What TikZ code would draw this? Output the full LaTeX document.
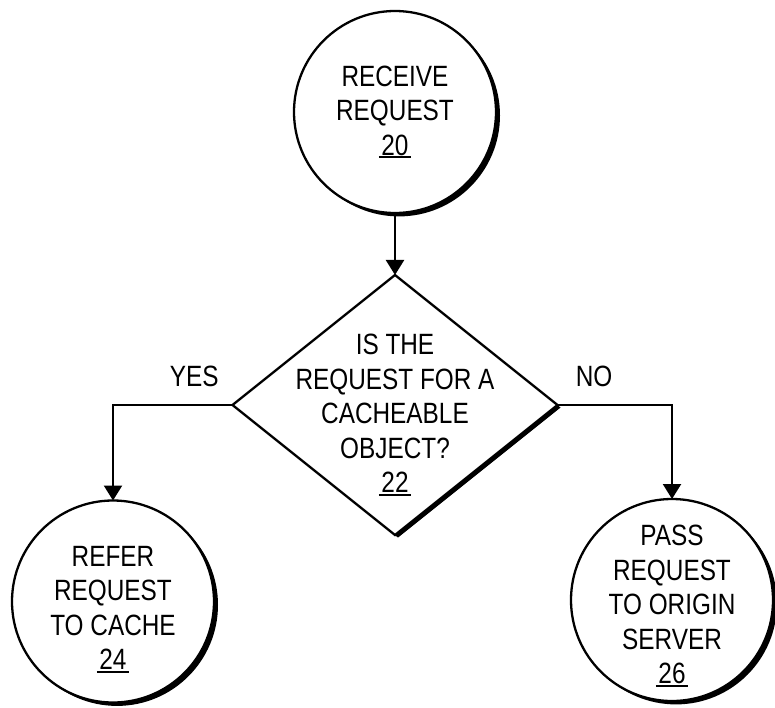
\documentclass[tikz,border=0pt]{standalone}
\usepackage{fontspec}
\setmainfont{Liberation Sans}[FakeStretch=0.83]
\usetikzlibrary{arrows.meta, positioning, shapes.geometric, shadows}

% reference numeral with a heavy underline
\newcommand{\refno}[1]{\setbox0=\hbox{#1}\leavevmode
  \rlap{\kern-1.5pt\vrule width \dimexpr\wd0+3pt\relax height -0.7pt depth 1.9pt}\box0}

\begin{document}
\begin{tikzpicture}[>={Triangle[length=0.3cm,width=0.36cm]}, line width=1.3pt,
  txt/.style={align=center, inner sep=0pt, font=\fontsize{16.7pt}{19.6pt}\selectfont},
  lbl/.style={inner sep=0pt, font=\fontsize{16.7pt}{19.6pt}\selectfont},
  inked/.style={drop shadow={shadow xshift=#1, shadow yshift=-0.85*#1, fill=black, opacity=1}},
  stage/.style={draw, circle, fill=white, inner sep=0pt, outer sep=0pt, minimum size=4.04cm, inked=.08cm},
  test/.style={draw, diamond, fill=white, inner sep=0pt, outer sep=0pt,
    minimum width=6.5cm, minimum height=5.2cm, inked=.06cm}]
\useasboundingbox (0,0) rectangle (15.5,-14.14);

\node[stage, label={[txt]center:RECEIVE\\REQUEST\\\refno{20}}] (receive) at (7.9,-2.24) {};
\node[test, below=1.24cm of receive,
  label={[txt, yshift=-0.2cm]center:IS THE\\REQUEST FOR A\\CACHEABLE\\OBJECT?\\\refno{22}}] (cacheable) {};
\node[stage, label={[txt, yshift=-0.16cm]center:REFER\\REQUEST\\TO CACHE\\\refno{24}}] (refer) at (2.26,-12.03) {};
\node[stage, label={[txt, yshift=-0.12cm]center:PASS\\REQUEST\\TO ORIGIN\\SERVER\\\refno{26}}] (pass) at (13.44,-12.0) {};

\draw[->] (receive) -- (cacheable);
\draw[->] (cacheable.west) -| node[lbl, pos=0.16, above=0.34cm] {YES} (refer);
\draw[->] (cacheable.east) -| node[lbl, pos=0.16, above=0.34cm] {NO} (pass);
\end{tikzpicture}
\end{document}
